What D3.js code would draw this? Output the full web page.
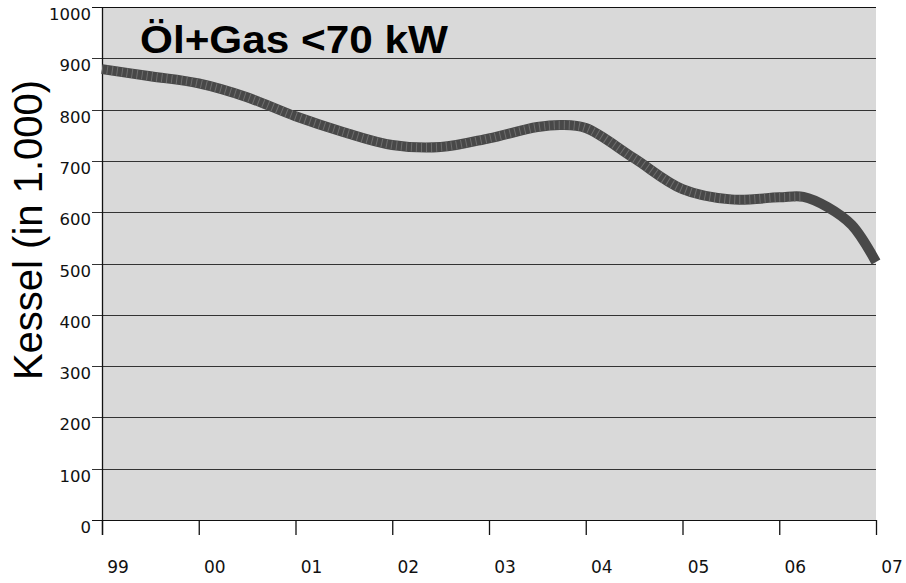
<!DOCTYPE html>
<html>
<head>
<meta charset="utf-8">
<script src="https://cdn.jsdelivr.net/npm/d3@7"></script>
<style>
  body { margin: 0; background: #fff; }
</style>
</head>
<body>
<div id="chart"></div>
<script>
// years since 1999 (0 = "99")
const yearPos = [0, 0.5, 1, 1.5, 2, 2.5, 3, 3.5, 4, 4.5, 4.75, 5, 5.5, 6, 6.5, 7, 7.25, 7.5, 7.75, 8];
const kessel = [879, 865, 851, 824, 787, 756, 731, 727, 744, 766, 770, 764, 705, 645, 625, 629, 630, 610, 575, 503];
const xLabels = ["99", "00", "01", "02", "03", "04", "05", "06", "07"];
const yTicks = [0, 100, 200, 300, 400, 500, 600, 700, 800, 900, 1000];
const title = "Öl+Gas <70 kW";
const yTitle = "Kessel (in 1.000)";

const width = 906, height = 583;
const margin = { top: 7, right: 30, bottom: 63, left: 102 };
const innerWidth = width - margin.left - margin.right;
const innerHeight = height - margin.top - margin.bottom;

const svg = d3.select("#chart").append("svg")
    .attr("width", width)
    .attr("height", height);

const g = svg.append("g")
    .attr("transform", `translate(${margin.left},${margin.top})`);

const x = d3.scaleLinear().domain([0, 8]).range([0, innerWidth]);
const y = d3.scaleLinear().domain([0, 1000]).range([innerHeight, 0]);

g.append("rect")
    .attr("width", innerWidth)
    .attr("height", innerHeight)
    .attr("fill", "#d9d9d9");

// gridlines + outer ticks
g.selectAll(".grid")
    .data(yTicks)
    .join("line")
    .attr("class", "grid")
    .attr("x1", -10)
    .attr("x2", innerWidth)
    .attr("y1", (d) => Math.round(y(d)) + 0.5)
    .attr("y2", (d) => Math.round(y(d)) + 0.5)
    .attr("stroke", (d) => (d === 0 || d === 1000 ? "#111" : "#333"))
    .attr("stroke-width", 1.2);

g.selectAll(".ylab")
    .data(yTicks)
    .join("text")
    .attr("class", "ylab")
    .attr("x", -11)
    .attr("y", (d) => y(d) + 13)
    .attr("text-anchor", "end")
    .style("font-family", "DejaVu Sans")
    .style("font-size", "16.5px")
    .attr("fill", "#111")
    .text((d) => d);

// left axis line
g.append("line")
    .attr("x1", 0.5).attr("x2", 0.5)
    .attr("y1", 0).attr("y2", innerHeight + 15)
    .attr("stroke", "#111")
    .attr("stroke-width", 1.3);

const xAxis = g.append("g")
    .attr("transform", `translate(0,${innerHeight})`)
    .call(d3.axisBottom(x).ticks(8).tickSize(15).tickFormat(""));
xAxis.select(".domain").remove();
xAxis.selectAll("line").attr("stroke", "#111").attr("stroke-width", 1.3);

g.selectAll(".xlab")
    .data(xLabels)
    .join("text")
    .attr("class", "xlab")
    .attr("x", (d, i) => x(i) + 16)
    .attr("y", innerHeight + 53)
    .attr("text-anchor", "middle")
    .style("font-family", "DejaVu Sans")
    .style("font-size", "17px")
    .attr("fill", "#111")
    .text((d) => d);

// the curve
const pts = yearPos.map((d, i) => [d, kessel[i]]);
const line = d3.line()
    .x((d) => x(d[0]))
    .y((d) => y(d[1]))
    .curve(d3.curveCatmullRom.alpha(0.5));

g.append("path")
    .datum(pts)
    .attr("d", line)
    .attr("fill", "none")
    .attr("stroke", "#484848")
    .attr("stroke-width", 10);

// light hatching on the band (not on the last drop)
g.append("path")
    .datum(pts.filter((d) => d[0] <= 7.25))
    .attr("d", line)
    .attr("fill", "none")
    .attr("stroke", "#6e6e6e")
    .attr("stroke-width", 9)
    .attr("stroke-dasharray", "1 4");

svg.append("text")
    .attr("x", 140)
    .attr("y", 53)
    .attr("textLength", 308)
    .attr("lengthAdjust", "spacingAndGlyphs")
    .style("font-family", "Liberation Sans, Arial")
    .style("font-weight", "bold")
    .style("font-size", "38px")
    .attr("fill", "#000")
    .text(title);

svg.append("text")
    .attr("transform", "translate(42,230) rotate(-90)")
    .attr("text-anchor", "middle")
    .style("font-family", "Liberation Sans, Arial")
    .style("font-size", "40px")
    .attr("fill", "#000")
    .text(yTitle);
</script>
</body>
</html>
